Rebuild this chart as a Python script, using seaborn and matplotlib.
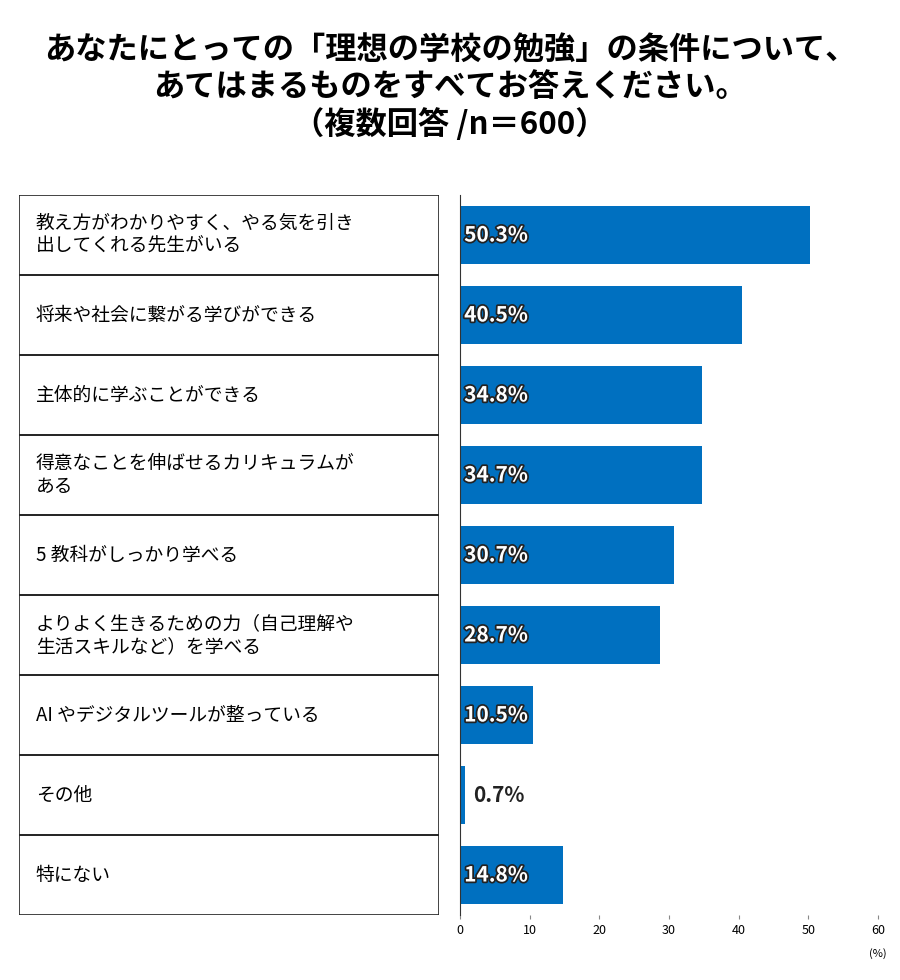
import matplotlib
matplotlib.use("Agg")
import matplotlib.pyplot as plt
import matplotlib.patheffects as pe
import seaborn as sns
import pandas as pd

plt.rcParams["font.family"] = "Noto Sans CJK JP"

categories = [
    "教え方がわかりやすく、やる気を引き\n出してくれる先生がいる",
    "将来や社会に繋がる学びができる",
    "主体的に学ぶことができる",
    "得意なことを伸ばせるカリキュラムが\nある",
    "5 教科がしっかり学べる",
    "よりよく生きるための力（自己理解や\n生活スキルなど）を学べる",
    "AI やデジタルツールが整っている",
    "その他",
    "特にない",
]
values = [50.3, 40.5, 34.8, 34.7, 30.7, 28.7, 10.5, 0.7, 14.8]
ticks = [0, 10, 20, 30, 40, 50, 60]
title = "あなたにとっての「理想の学校の勉強」の条件について、\nあてはまるものをすべてお答えください。\n（複数回答 /n＝600）"

df = pd.DataFrame({"cat": categories, "val": values})

fig = plt.figure(figsize=(9, 9.8), dpi=100)
fig.text(0.5, 0.965, title, ha="center", va="top", fontsize=22.5, fontweight="bold", linespacing=1.2)

bottom, height = 1 - 915 / 980, (915 - 195) / 980
ax = fig.add_axes([460 / 900, bottom, 418 / 900, height])
sns.barplot(data=df, x="val", y="cat", orient="h", color="#0070C0", width=0.72, ax=ax, saturation=1)
ax.set_xlim(0, 60)
ax.set_ylim(len(categories) - 0.5, -0.5)
ax.set_xticks(ticks)
ax.set_xticklabels([str(t) for t in ticks], fontsize=9)
ax.set_yticks([])
ax.set_xlabel("")
ax.set_ylabel("")
for s in ["top", "right", "bottom"]:
    ax.spines[s].set_visible(False)
ax.spines["left"].set_color("#333333")
ax.tick_params(axis="x", length=3, color="#888888")
ax.annotate("(%)", xy=(1.0, 0), xycoords="axes fraction", xytext=(0, -24),
            textcoords="offset points", ha="center", va="top", fontsize=8)
for i, v in enumerate(values):
    if v < 5:
        ax.text(v + 1.2, i, f"{v}%", va="center", ha="left", fontsize=15,
                fontweight="bold", color="#222222")
    else:
        t = ax.text(0.6, i, f"{v}%", va="center", ha="left", fontsize=15,
                    fontweight="bold", color="white")
        t.set_path_effects([pe.withStroke(linewidth=2.5, foreground="#222222")])

tax = fig.add_axes([19 / 900, bottom, 420 / 900, height])
tax.set_xlim(0, 1)
tax.set_ylim(len(categories), 0)
tax.axis("off")
for i, c in enumerate(categories):
    tax.add_patch(plt.Rectangle((0, i), 1, 1, fill=False, edgecolor="#222222", linewidth=1.2))
    tax.text(0.04, i + 0.5, c, va="center", ha="left", fontsize=13.5, linespacing=1.1)

fig.savefig("out.png", dpi=100)
